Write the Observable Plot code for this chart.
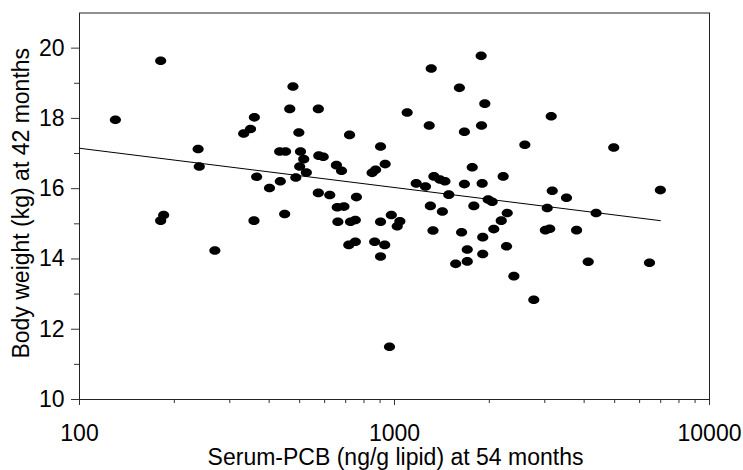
<!DOCTYPE html>
<html><head><meta charset="utf-8">
<script src="https://cdn.jsdelivr.net/npm/d3@7"></script>
<script src="https://cdn.jsdelivr.net/npm/@observablehq/plot@0.6"></script>
<style>
html,body{margin:0;padding:0;background:#fff;}
</style></head><body><div id="chart"></div>
<script>
// Serum-PCB (ng/g lipid) at 54 months
const pcb = [130, 181, 238, 240, 181, 185, 269, 332, 349, 359,
  365, 358, 401, 434, 432, 451, 448, 465, 476, 497,
  503, 515, 500, 525, 486, 573, 575, 594, 573, 623,
  654, 679, 658, 691, 661, 720, 725, 751, 757, 716,
  751, 865, 849, 871, 903, 934, 903, 931, 903, 964,
  977, 1040, 1020, 1097, 1172, 1254, 1308, 1289, 1334, 1394,
  1446, 1487, 1300, 1419, 1325, 1607, 1667, 1667, 1765, 1786,
  1633, 1702, 1564, 1702, 1884, 1935, 1889, 1898, 1983, 2042,
  1906, 1906, 2066, 2213, 2280, 2182, 2268, 2393, 2593, 2768,
  3144, 3168, 3054, 3013, 3110, 3515, 3785, 4366, 4120, 4966,
  6982, 6449];
// Body weight (kg) at 42 months
const weight = [17.96, 19.64, 17.13, 16.63, 15.09, 15.25, 14.24, 17.57, 17.70, 18.03,
  16.34, 15.09, 16.02, 16.21, 17.06, 17.06, 15.28, 18.27, 18.91, 17.60,
  17.06, 16.84, 16.63, 16.46, 16.32, 18.27, 16.94, 16.91, 15.88, 15.82,
  16.67, 16.51, 15.47, 15.49, 15.06, 17.53, 15.06, 15.11, 15.76, 14.40,
  14.49, 14.49, 16.45, 16.54, 17.20, 16.70, 15.06, 14.40, 14.07, 11.50,
  15.25, 15.07, 14.93, 18.17, 16.15, 16.06, 19.42, 17.80, 16.35, 16.26,
  16.21, 15.83, 15.51, 15.35, 14.81, 18.87, 17.62, 16.13, 16.61, 15.51,
  14.76, 14.27, 13.86, 13.93, 19.78, 18.42, 17.80, 16.15, 15.69, 15.63,
  14.62, 14.14, 14.85, 16.35, 15.31, 15.09, 14.36, 13.51, 17.25, 12.84,
  18.06, 15.94, 15.45, 14.82, 14.86, 15.74, 14.82, 15.31, 13.92, 17.17,
  15.96, 13.89];
// Fitted regression line end points
const fitPcb = [100, 6982];
const fitWeight = [17.15, 15.09];

const xMajorTicks = [100, 1000, 10000];
const xMinorTicks = [200, 300, 400, 500, 600, 700, 800, 900, 2000, 3000, 4000, 5000, 6000, 7000, 8000, 9000];
const yMajorTicks = [10, 12, 14, 16, 18, 20];
const yMinorTicks = [11, 13, 15, 17, 19];
const xTitle = "Serum-PCB (ng/g lipid) at 54 months";
const yTitle = "Body weight (kg) at 42 months";

const points = pcb.map((x, i) => ({x, y: weight[i]}));
const fit = fitPcb.map((x, i) => ({x, y: fitWeight[i]}));

const ellipse = {
  draw(context) {
    const rx = 5.6, ry = 4.3, k = 0.5523;
    context.moveTo(rx, 0);
    context.bezierCurveTo(rx, ry * k, rx * k, ry, 0, ry);
    context.bezierCurveTo(-rx * k, ry, -rx, ry * k, -rx, 0);
    context.bezierCurveTo(-rx, -ry * k, -rx * k, -ry, 0, -ry);
    context.bezierCurveTo(rx * k, -ry, rx, -ry * k, rx, 0);
    context.closePath();
  }
};

const chart = Plot.plot({
  width: 743, height: 470,
  marginLeft: 79, marginRight: 34, marginTop: 12.5, marginBottom: 71,
  style: {fontFamily: "'Liberation Sans', Arial, sans-serif", fontSize: "23px", background: "white", color: "black"},
  x: {type: "log", domain: [100, 10000]},
  y: {domain: [10, 21]},
  marks: [
    Plot.axisX({ticks: xMajorTicks, tickSize: 6, tickPadding: 19, tickFormat: d => String(d), label: null, stroke: "#333"}),
    Plot.axisX({ticks: xMinorTicks, tickSize: 4, tickFormat: () => "", label: null, stroke: "#333"}),
    Plot.axisY({ticks: yMajorTicks, tickSize: 8, tickPadding: 7, tickFormat: d => String(d), label: null, stroke: "#333"}),
    Plot.axisY({ticks: yMinorTicks, tickSize: 5, tickFormat: () => "", label: null, stroke: "#333"}),
    Plot.frame({stroke: "#222"}),
    Plot.line(fit, {x: "x", y: "y", stroke: "black", strokeWidth: 1}),
    Plot.dot(points, {x: "x", y: "y", symbol: ellipse, fill: "black", stroke: "none"}),
    Plot.text([xTitle], {frameAnchor: "bottom", text: d => d, dy: 58.6, dx: 1, textAnchor: "middle", lineAnchor: "middle", fontSize: 23, fill: "black"}),
    Plot.text([yTitle], {frameAnchor: "left", text: d => d, rotate: -90, dx: -58, dy: -3, textAnchor: "middle", lineAnchor: "middle", fontSize: 23, fill: "black"})
  ]
});
document.getElementById("chart").appendChild(chart);
</script>
</body></html>
